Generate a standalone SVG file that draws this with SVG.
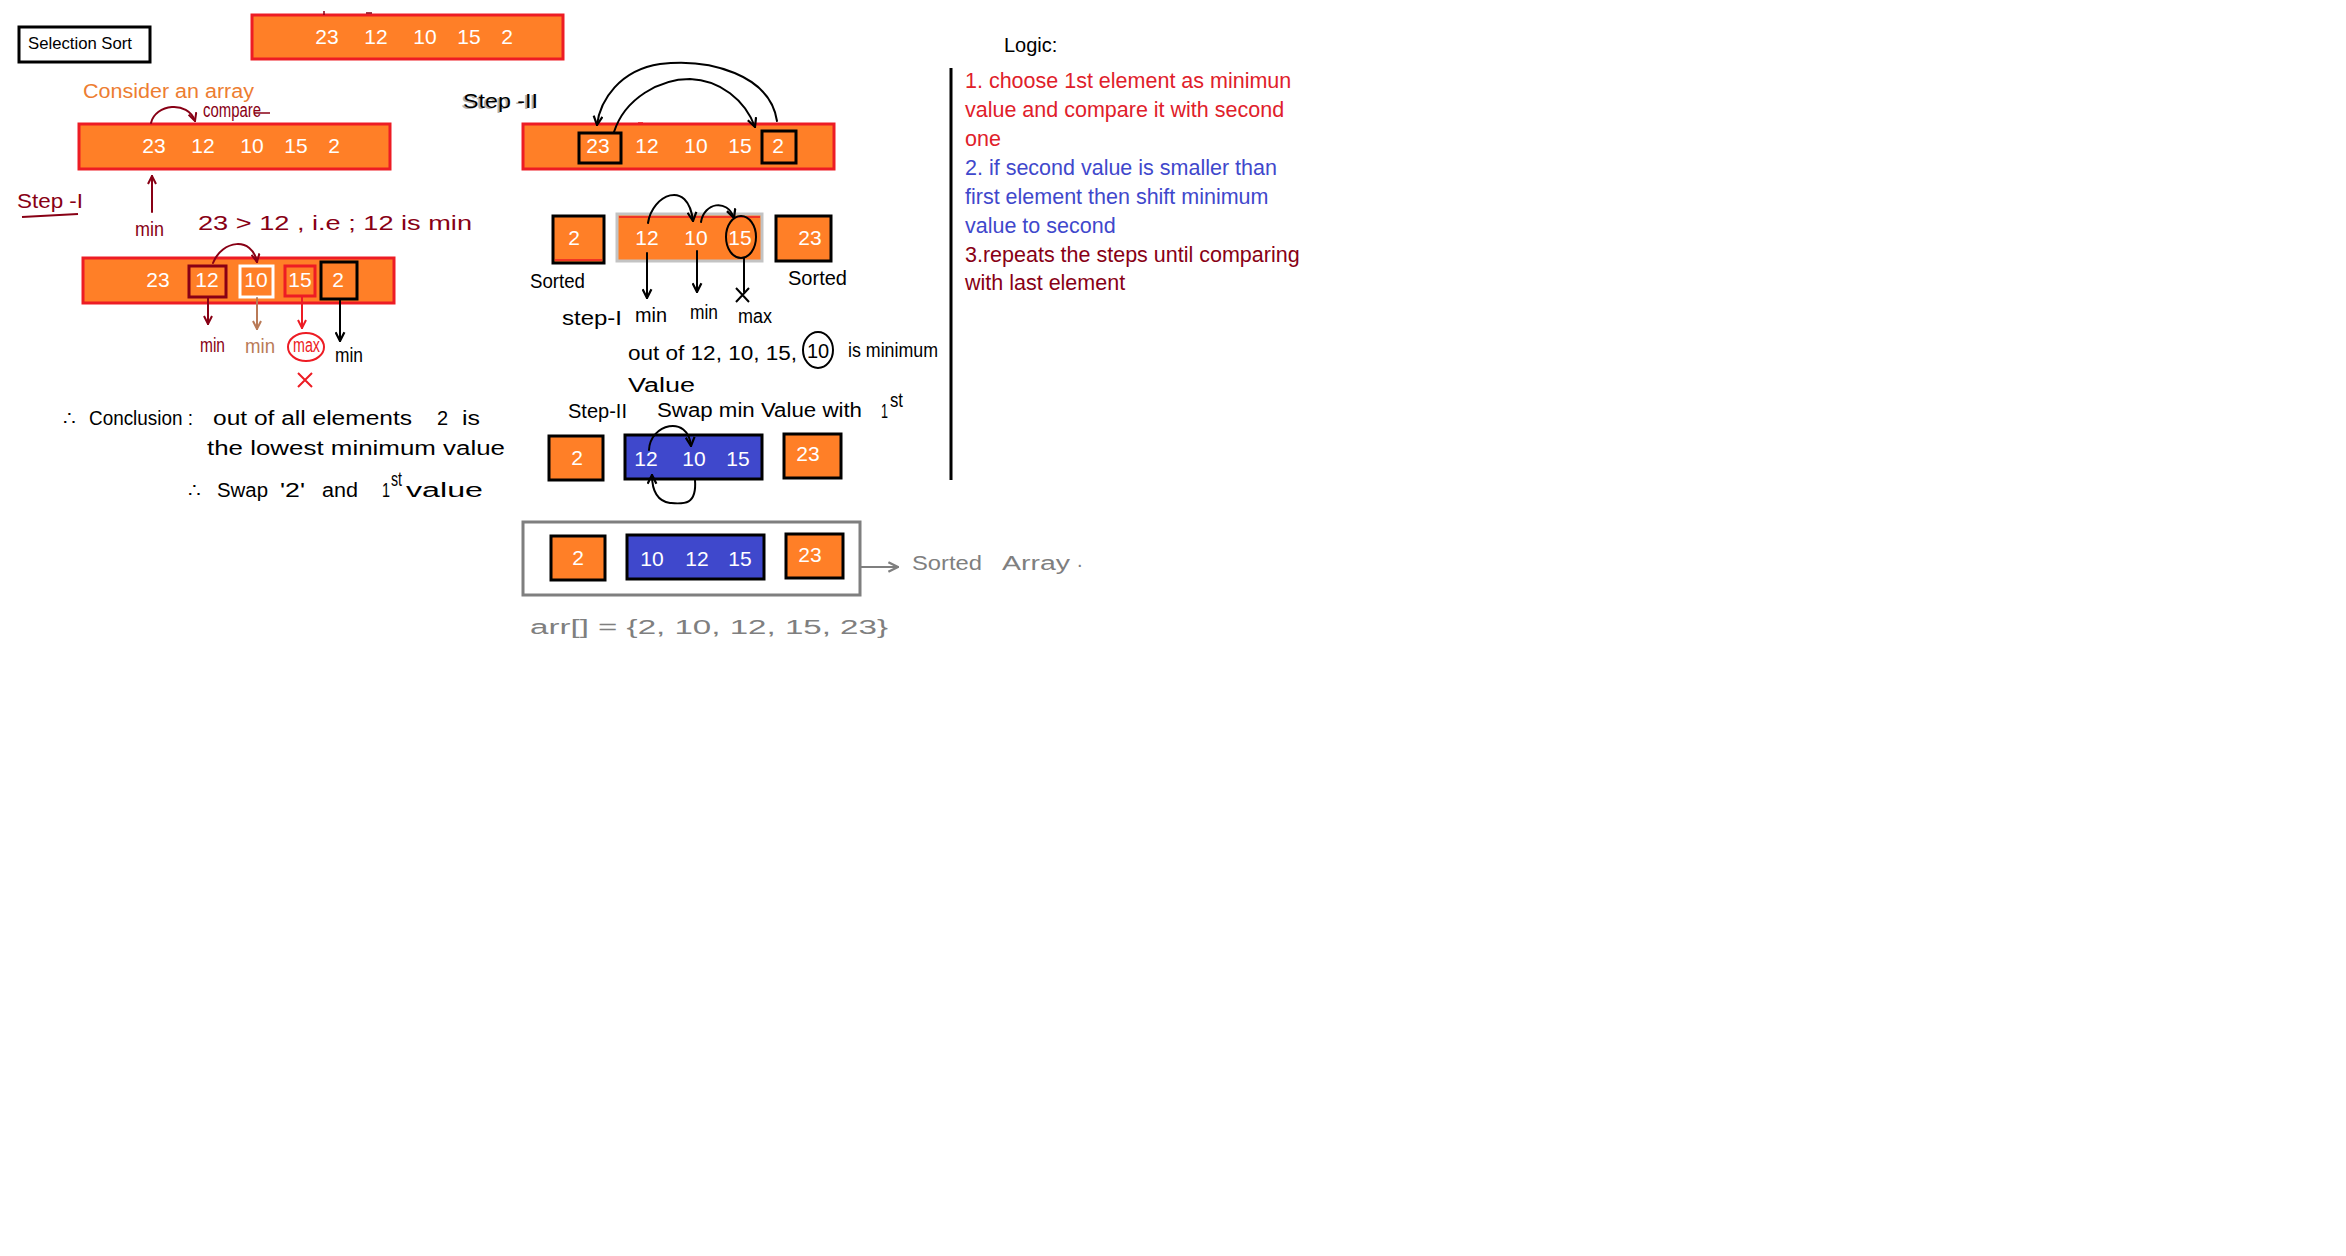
<svg xmlns="http://www.w3.org/2000/svg" width="2346" height="1256" viewBox="0 0 2346 1256">
<style>
.bg{fill:#ffffff}
.arr{fill:#FF7F27;stroke:#ED1C24;stroke-width:3}
.box{fill:#FF7F27;stroke:#000;stroke-width:3}
.blue{fill:#3F48CC;stroke:#000;stroke-width:3}
.num{font-family:"Liberation Sans",Arial,sans-serif;font-size:21px;fill:#fff;text-anchor:middle}
.hand{font-family:"Liberation Sans",Arial,sans-serif;font-size:20px}
.mr{fill:#880015}
.bk{fill:#000}
.gr{fill:#7F7F7F}
.rd{fill:#ED1C24}
.tn{fill:#B97A57}
.ln{fill:none;stroke-width:2;stroke-linecap:round}
.logic{font-family:"Liberation Sans",Arial,sans-serif;font-size:21.5px}
</style>
<defs>
<marker id="hm" viewBox="0 0 10 10" refX="9" refY="5" markerWidth="10" markerHeight="10" markerUnits="userSpaceOnUse" orient="auto"><path d="M1,1 L9,5 L1,9" fill="none" stroke="#880015" stroke-width="2"/></marker>
<marker id="hb" viewBox="0 0 10 10" refX="9" refY="5" markerWidth="11" markerHeight="11" markerUnits="userSpaceOnUse" orient="auto"><path d="M1,1 L9,5 L1,9" fill="none" stroke="#000" stroke-width="2"/></marker>
<marker id="hr" viewBox="0 0 10 10" refX="9" refY="5" markerWidth="10" markerHeight="10" markerUnits="userSpaceOnUse" orient="auto"><path d="M1,1 L9,5 L1,9" fill="none" stroke="#ED1C24" stroke-width="2"/></marker>
<marker id="ht" viewBox="0 0 10 10" refX="9" refY="5" markerWidth="10" markerHeight="10" markerUnits="userSpaceOnUse" orient="auto"><path d="M1,1 L9,5 L1,9" fill="none" stroke="#B97A57" stroke-width="2"/></marker>
<marker id="hg" viewBox="0 0 10 10" refX="9" refY="5" markerWidth="12" markerHeight="12" markerUnits="userSpaceOnUse" orient="auto"><path d="M1,1 L9,5 L1,9" fill="none" stroke="#7F7F7F" stroke-width="2"/></marker>
</defs>
<rect class="bg" x="0" y="0" width="2346" height="1256"/>

<g id="title">
<rect x="19" y="27" width="131" height="35" fill="#fff" stroke="#000" stroke-width="3"/>
<text x="28" y="49" font-family="Liberation Sans,Arial,sans-serif" font-size="17" textLength="104" lengthAdjust="spacingAndGlyphs">Selection Sort</text>
</g>

<g id="array-top">
<rect class="arr" x="252" y="15" width="311" height="44"/>
<text class="num" x="327" y="44">23</text><text class="num" x="376" y="44">12</text><text class="num" x="425" y="44">10</text><text class="num" x="469" y="44">15</text><text class="num" x="507" y="44">2</text>
</g>

<g id="consider-label">
<text x="83" y="98" font-family="Liberation Sans,Arial,sans-serif" font-size="20" fill="#ED7D31" textLength="171" lengthAdjust="spacingAndGlyphs">Consider an array</text>
</g>

<g id="array-1">
<rect class="arr" x="79" y="124" width="311" height="45"/>
<text class="num" x="154" y="153">23</text><text class="num" x="203" y="153">12</text><text class="num" x="252" y="153">10</text><text class="num" x="296" y="153">15</text><text class="num" x="334" y="153">2</text>
</g>

<g id="step1-notes">
<text class="hand mr" x="203" y="117" font-size="13" textLength="58" lengthAdjust="spacingAndGlyphs">compare</text>
<path d="M254,113 L270,113" stroke="#880015" stroke-width="1.5" fill="none"/>
<text class="hand mr" x="17" y="208" font-size="26" textLength="66" lengthAdjust="spacingAndGlyphs">Step -I</text>
<path d="M22,217 L78,214" stroke="#880015" stroke-width="2" fill="none"/>
<text class="hand mr" x="135" y="236" font-size="18" textLength="29" lengthAdjust="spacingAndGlyphs">min</text>
<text class="hand mr" x="198" y="230" font-size="23" textLength="274" lengthAdjust="spacingAndGlyphs">23 &gt; 12 , i.e ; 12 is min</text>
</g>

<g id="array-2">
<rect class="arr" x="83" y="258" width="311" height="45"/>
<rect x="189" y="266" width="37" height="31" fill="none" stroke="#880015" stroke-width="3"/>
<rect x="240" y="266" width="33" height="31" fill="none" stroke="#fff" stroke-width="3"/>
<rect x="285" y="266" width="30" height="30" fill="none" stroke="#ED1C24" stroke-width="3"/>
<rect x="321" y="262" width="36" height="37" fill="none" stroke="#000" stroke-width="3"/>
<text class="num" x="158" y="287">23</text><text class="num" x="207" y="287">12</text><text class="num" x="256" y="287">10</text><text class="num" x="300" y="287">15</text><text class="num" x="338" y="287">2</text>
</g>

<g id="array-2-labels">
<text class="hand mr" x="200" y="352" font-size="17" textLength="25" lengthAdjust="spacingAndGlyphs">min</text>
<text class="hand tn" x="245" y="353" font-size="17" textLength="30" lengthAdjust="spacingAndGlyphs">min</text>
<ellipse cx="306" cy="347" rx="18" ry="14" fill="none" stroke="#ED1C24" stroke-width="2"/>
<text class="hand rd" x="293" y="352" font-size="13" textLength="27" lengthAdjust="spacingAndGlyphs">max</text>
<path d="M298,373 L312,387 M312,373 L298,387" stroke="#ED1C24" stroke-width="2" fill="none"/>
<text class="hand bk" x="335" y="362" font-size="17" textLength="28" lengthAdjust="spacingAndGlyphs">min</text>
</g>

<g id="conclusion">
<text class="hand bk" x="63" y="425" font-size="22">∴</text>
<text class="hand bk" x="89" y="425" font-size="23" textLength="104" lengthAdjust="spacingAndGlyphs">Conclusion :</text>
<text class="hand bk" x="213" y="425" font-size="22" textLength="199" lengthAdjust="spacingAndGlyphs">out of all elements</text>
<text class="hand bk" x="437" y="425" font-size="22">2</text>
<text class="hand bk" x="462" y="425" font-size="22" textLength="18" lengthAdjust="spacingAndGlyphs">is</text>
<text class="hand bk" x="207" y="455" font-size="22" textLength="298" lengthAdjust="spacingAndGlyphs">the lowest minimum value</text>
<text class="hand bk" x="188" y="497" font-size="22">∴</text>
<text class="hand bk" x="217" y="497" font-size="22" textLength="51" lengthAdjust="spacingAndGlyphs">Swap</text>
<text class="hand bk" x="280" y="497" font-size="22" textLength="25" lengthAdjust="spacingAndGlyphs">'2'</text>
<text class="hand bk" x="322" y="497" font-size="22" textLength="36" lengthAdjust="spacingAndGlyphs">and</text>
<text class="hand bk" x="382" y="497" font-size="22" textLength="8" lengthAdjust="spacingAndGlyphs">1</text>
<text class="hand bk" x="391" y="486" font-size="12" textLength="11" lengthAdjust="spacingAndGlyphs">st</text>
<text class="hand bk" x="406" y="497" font-size="22" textLength="77" lengthAdjust="spacingAndGlyphs">value</text>
</g>

<g id="step2-label">
<text class="hand" x="461" y="109" font-size="25" fill="#B0B0B0" textLength="75" lengthAdjust="spacingAndGlyphs">Step -II</text>
<text class="hand bk" x="463" y="108" font-size="25" textLength="75" lengthAdjust="spacingAndGlyphs">Step -II</text>
</g>

<g id="array-3">
<rect class="arr" x="523" y="124" width="311" height="45"/>
<rect x="579" y="133" width="42" height="30" fill="none" stroke="#000" stroke-width="3"/>
<rect x="762" y="131" width="34" height="32" fill="none" stroke="#000" stroke-width="3"/>
<text class="num" x="598" y="153">23</text><text class="num" x="647" y="153">12</text><text class="num" x="696" y="153">10</text><text class="num" x="740" y="153">15</text><text class="num" x="778" y="153">2</text>
</g>

<g id="row-a">
<rect class="box" x="553" y="216" width="51" height="47"/>
<path d="M555,260 L602,260" stroke="#ED1C24" stroke-width="1.5"/>
<text class="num" x="574" y="245">2</text>
<rect x="617" y="214" width="145" height="47" fill="#FF7F27" stroke="#C3C3C3" stroke-width="3"/>
<path d="M619,217 L760,217" stroke="#ED1C24" stroke-width="1.5"/>
<text class="num" x="647" y="245">12</text><text class="num" x="696" y="245">10</text><text class="num" x="740" y="245">15</text>
<ellipse cx="741" cy="237" rx="15" ry="21" fill="none" stroke="#000" stroke-width="2"/>
<rect class="box" x="776" y="216" width="55" height="45"/>
<text class="num" x="810" y="245">23</text>
</g>

<g id="row-a-notes">
<text class="hand bk" x="530" y="288" font-size="18" textLength="55" lengthAdjust="spacingAndGlyphs">Sorted</text>
<text class="hand bk" x="788" y="285" font-size="18" textLength="59" lengthAdjust="spacingAndGlyphs">Sorted</text>
<text class="hand bk" x="562" y="325" font-size="17" textLength="60" lengthAdjust="spacingAndGlyphs">step-I</text>
<text class="hand bk" x="635" y="322" font-size="17" textLength="32" lengthAdjust="spacingAndGlyphs">min</text>
<text class="hand bk" x="690" y="319" font-size="17" textLength="28" lengthAdjust="spacingAndGlyphs">min</text>
<text class="hand bk" x="738" y="323" font-size="14" textLength="34" lengthAdjust="spacingAndGlyphs">max</text>
<path d="M736,288 L749,302 M749,288 L736,302" stroke="#000" stroke-width="2" fill="none"/>
<text class="hand bk" x="628" y="360" font-size="19" textLength="169" lengthAdjust="spacingAndGlyphs">out of 12, 10, 15,</text>
<ellipse cx="818" cy="350" rx="15" ry="18" fill="none" stroke="#000" stroke-width="2"/>
<text class="hand bk" x="818" y="358" font-size="19" text-anchor="middle">10</text>
<text class="hand bk" x="848" y="357" font-size="19" textLength="90" lengthAdjust="spacingAndGlyphs">is minimum</text>
<text class="hand bk" x="628" y="392" font-size="19" textLength="67" lengthAdjust="spacingAndGlyphs">Value</text>
<text class="hand bk" x="568" y="418" font-size="18" textLength="59" lengthAdjust="spacingAndGlyphs">Step-II</text>
<text class="hand bk" x="657" y="417" font-size="18" textLength="205" lengthAdjust="spacingAndGlyphs">Swap min Value with</text>
<text class="hand bk" x="881" y="418" font-size="18" textLength="7" lengthAdjust="spacingAndGlyphs">1</text>
<text class="hand bk" x="890" y="407" font-size="13" textLength="13" lengthAdjust="spacingAndGlyphs">st</text>
</g>

<g id="row-b">
<rect class="box" x="549" y="436" width="54" height="44"/>
<text class="num" x="577" y="465">2</text>
<rect class="blue" x="625" y="435" width="137" height="44"/>
<text class="num" x="646" y="466">12</text><text class="num" x="694" y="466">10</text><text class="num" x="738" y="466">15</text>
<rect class="box" x="784" y="434" width="57" height="44"/>
<text class="num" x="808" y="461">23</text>
</g>

<g id="sorted-result">
<rect x="523" y="522" width="337" height="73" fill="none" stroke="#7F7F7F" stroke-width="3"/>
<rect class="box" x="551" y="536" width="54" height="44"/>
<text class="num" x="578" y="565">2</text>
<rect class="blue" x="627" y="535" width="137" height="44"/>
<text class="num" x="652" y="566">10</text><text class="num" x="697" y="566">12</text><text class="num" x="740" y="566">15</text>
<rect class="box" x="786" y="534" width="57" height="44"/>
<text class="num" x="810" y="562">23</text>
</g>

<g id="sorted-label">
<text class="hand gr" x="912" y="570" font-size="23" textLength="70" lengthAdjust="spacingAndGlyphs">Sorted</text>
<text class="hand gr" x="1002" y="570" font-size="23" textLength="68" lengthAdjust="spacingAndGlyphs">Array</text>
<text class="hand gr" x="1077" y="567" font-size="14">.</text>
<text class="hand gr" x="530" y="634" font-size="24" textLength="358" lengthAdjust="spacingAndGlyphs">arr[] = {2, 10, 12, 15, 23}</text>
</g>

<g id="logic">
<text x="1004" y="52" font-family="Liberation Sans,Arial,sans-serif" font-size="20" fill="#000">Logic:</text>
<path d="M951,68 L951,480" stroke="#000" stroke-width="3"/>
<text class="logic" x="965" y="88" fill="#E0202A">1. choose 1st element as minimun</text>
<text class="logic" x="965" y="117" fill="#E0202A">value and compare it with second</text>
<text class="logic" x="965" y="146" fill="#E0202A">one</text>
<text class="logic" x="965" y="175" fill="#3F48CC">2. if second value is smaller than</text>
<text class="logic" x="965" y="204" fill="#3F48CC">first element then shift minimum</text>
<text class="logic" x="965" y="233" fill="#3F48CC">value to second</text>
<text class="logic" x="965" y="262" fill="#880015">3.repeats the steps until comparing</text>
<text class="logic" x="965" y="290" fill="#880015">with  last element</text>
</g>

<g id="connectors">
<path class="ln" stroke="#880015" d="M151,123 C155,104 188,100 195,121" marker-end="url(#hm)"/>
<path class="ln" stroke="#880015" d="M152,212 L152,176" marker-end="url(#hm)"/>
<path class="ln" stroke="#880015" d="M213,263 C222,240 252,236 257,262" marker-end="url(#hm)"/>
<path class="ln" stroke="#880015" d="M208,298 L208,324" marker-end="url(#hm)"/>
<path class="ln" stroke="#B97A57" d="M257,298 L257,329" marker-end="url(#ht)"/>
<path class="ln" stroke="#ED1C24" d="M302,297 L302,328" marker-end="url(#hr)"/>
<path class="ln" stroke="#000" d="M340,300 L340,341" marker-end="url(#hb)"/>
<path class="ln" stroke="#000" d="M777,121 C770,75 710,58 660,64 C620,70 600,100 597,125" marker-end="url(#hb)"/>
<path class="ln" stroke="#000" d="M614,132 C625,98 660,79 690,79 C720,80 745,100 755,127" marker-end="url(#hb)"/>
<path class="ln" stroke="#000" d="M648,223 C652,195 688,178 693,221" marker-end="url(#hb)"/>
<path class="ln" stroke="#000" d="M701,222 C704,203 727,198 734,218" marker-end="url(#hb)"/>
<path class="ln" stroke="#000" d="M647,253 L647,298" marker-end="url(#hb)"/>
<path class="ln" stroke="#000" d="M697,251 L697,292" marker-end="url(#hb)"/>
<path class="ln" stroke="#000" d="M744,258 L744,292"/>
<path class="ln" stroke="#000" d="M649,450 C650,424 688,414 691,446" marker-end="url(#hb)"/>
<path class="ln" stroke="#000" d="M695,480 C697,506 683,504 670,503 C657,501 652,490 652,475" marker-end="url(#hb)"/>
<path class="ln" stroke="#7F7F7F" d="M860,567 L898,567" marker-end="url(#hg)"/>
</g>

<g id="marks">
<path d="M324,11 L324,15 M366,13 L372,13" stroke="#880015" stroke-width="1.5"/>
<path d="M638,123 L643,123" stroke="#ED1C24" stroke-width="1.5"/>
</g>
</svg>
